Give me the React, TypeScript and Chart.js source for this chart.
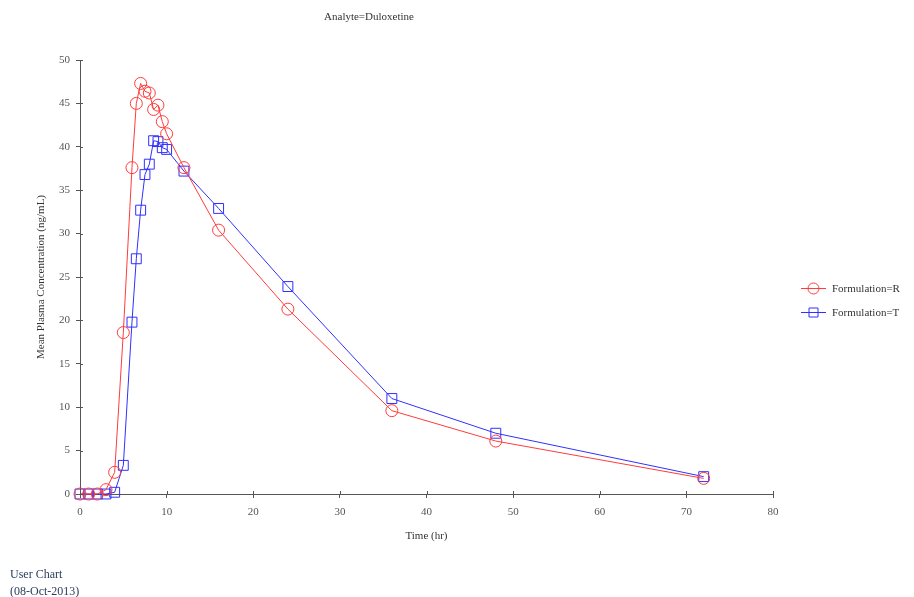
import React, { useEffect, useRef } from "react";
import { Chart, registerables } from "chart.js";

Chart.register(...registerables);

const times = [0, 1, 2, 3, 4, 5, 6, 6.5, 7, 7.5, 8, 8.5, 9, 9.5, 10, 12, 16, 24, 36, 48, 72];
const seriesR = [0, 0, 0, 0.5, 2.5, 18.6, 37.6, 45.0, 47.3, 46.4, 46.2, 44.3, 44.8, 42.9, 41.5, 37.6, 30.4, 21.3, 9.6, 6.1, 1.8];
const seriesT = [0, 0, 0, 0, 0.2, 3.3, 19.8, 27.1, 32.7, 36.8, 38.0, 40.7, 40.6, 39.9, 39.7, 37.2, 32.9, 23.9, 11.0, 7.0, 2.0];
const labelR = "Formulation=R";
const labelT = "Formulation=T";
const chartTitle = "Analyte=Duloxetine";
const xTitle = "Time (hr)";
const yTitle = "Mean Plasma Concentration (ng/mL)";
const footer1 = "User Chart";
const footer2 = "(08-Oct-2013)";

const SERIF = "'Liberation Serif', 'DejaVu Serif', serif";
const RED = "#ff3b3b";
const BLUE = "#3030ff";
const AXIS = "#555555";

export default function App() {
  const ref = useRef<HTMLCanvasElement | null>(null);

  useEffect(() => {
    if (!ref.current) return;
    const extras = {
      id: "extras",
      afterDraw(chart: any) {
        const ctx = chart.ctx;
        const xs = chart.scales.x;
        const ys = chart.scales.y;
        ctx.save();
        ctx.strokeStyle = AXIS;
        ctx.lineWidth = 1;
        ys.ticks.forEach((t: any) => {
          const y = Math.round(ys.getPixelForValue(t.value)) + 0.5;
          ctx.beginPath();
          ctx.moveTo(chart.chartArea.left, y);
          ctx.lineTo(chart.chartArea.left + 3, y);
          ctx.stroke();
        });
        xs.ticks.forEach((t: any) => {
          const x = Math.round(xs.getPixelForValue(t.value)) + 0.5;
          ctx.beginPath();
          ctx.moveTo(x, chart.chartArea.bottom);
          ctx.lineTo(x, chart.chartArea.bottom - 3);
          ctx.stroke();
        });
        ctx.fillStyle = "#333333";
        ctx.font = "11px " + SERIF;
        ctx.textAlign = "center";
        ctx.textBaseline = "middle";
        ctx.fillText(chartTitle, 369, 17);
        const items = [
          { label: labelR, color: RED, style: "circle", y: 288 },
          { label: labelT, color: BLUE, style: "rect", y: 312 },
        ];
        items.forEach((it) => {
          ctx.strokeStyle = it.color;
          ctx.lineWidth = 1;
          ctx.beginPath();
          ctx.moveTo(801, it.y + 0.5);
          ctx.lineTo(826, it.y + 0.5);
          ctx.stroke();
          ctx.beginPath();
          if (it.style === "circle") {
            ctx.arc(813.5, it.y + 0.5, 5.5, 0, Math.PI * 2);
          } else {
            ctx.rect(809, it.y - 4, 9, 9);
          }
          ctx.stroke();
          ctx.fillStyle = "#333333";
          ctx.textAlign = "left";
          ctx.fillText(it.label, 832, it.y + 1);
        });
        ctx.restore();
      },
    };

    const chart = new Chart(ref.current, {
      type: "scatter",
      data: {
        datasets: [
          {
            label: labelR,
            data: times.map((t, i) => ({ x: t, y: seriesR[i] })),
            showLine: true,
            clip: false,
            borderColor: RED,
            backgroundColor: "rgba(0,0,0,0)",
            borderWidth: 1,
            pointStyle: "circle",
            pointRadius: 6,
            pointBorderColor: RED,
            pointBorderWidth: 1,
          },
          {
            label: labelT,
            data: times.map((t, i) => ({ x: t, y: seriesT[i] })),
            showLine: true,
            clip: false,
            borderColor: BLUE,
            backgroundColor: "rgba(0,0,0,0)",
            borderWidth: 1,
            pointStyle: "rect",
            pointRadius: 7,
            pointBorderColor: BLUE,
            pointBorderWidth: 1,
          },
        ],
      },
      options: {
        responsive: false,
        animation: false,
        layout: { padding: { left: 0, top: 60, right: 141, bottom: 53 } },
        plugins: {
          legend: { display: false },
          title: { display: false },
          tooltip: { enabled: false },
        },
        scales: {
          x: {
            type: "linear",
            min: 0,
            max: 80,
            afterFit: (s: any) => {
              s.height = 50;
            },
            ticks: {
              stepSize: 10,
              color: "#555555",
              padding: 8,
              font: { family: SERIF, size: 11 },
            },
            grid: {
              drawOnChartArea: false,
              drawTicks: true,
              tickLength: 4,
              color: AXIS,
            },
            border: { color: AXIS, width: 1 },
            title: {
              display: true,
              text: xTitle,
              color: "#333333",
              font: { family: SERIF, size: 11 },
              padding: { top: 0, bottom: 1 },
            },
          },
          y: {
            type: "linear",
            min: 0,
            max: 50,
            afterFit: (s: any) => {
              s.width = 80;
            },
            ticks: {
              stepSize: 5,
              color: "#555555",
              padding: 6,
              font: { family: SERIF, size: 11 },
            },
            grid: {
              drawOnChartArea: false,
              drawTicks: true,
              tickLength: 4,
              color: AXIS,
            },
            border: { color: AXIS, width: 1 },
            title: {
              display: true,
              text: yTitle,
              color: "#333333",
              font: { family: SERIF, size: 11 },
              padding: { top: 35, bottom: 0 },
            },
          },
        },
      },
      plugins: [extras],
    } as any);
    return () => chart.destroy();
  }, []);

  return (
    <div style={{ position: "fixed", left: 0, top: 0, width: 914, height: 597, background: "#fff" }}>
      <canvas ref={ref} width={914} height={597} style={{ display: "block" }} />
      <div
        style={{
          position: "absolute",
          left: 10,
          top: 566,
          fontFamily: SERIF,
          fontSize: 12,
          lineHeight: "17px",
          color: "#2b3d5c",
        }}
      >
        <div>{footer1}</div>
        <div>{footer2}</div>
      </div>
    </div>
  );
}
